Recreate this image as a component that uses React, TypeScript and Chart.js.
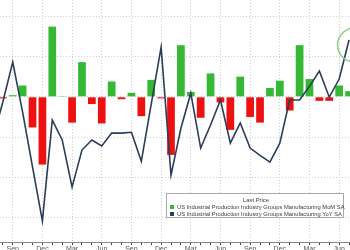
import React, { useEffect, useRef } from "react";
import { Chart, registerables } from "chart.js";

Chart.register(...registerables);

const MONTHS = [
  "Jul", "Aug", "Sep", "Oct", "Nov", "Dec",
  "Jan", "Feb", "Mar", "Apr", "May", "Jun", "Jul", "Aug", "Sep", "Oct", "Nov", "Dec",
  "Jan", "Feb", "Mar", "Apr", "May", "Jun", "Jul", "Aug", "Sep", "Oct", "Nov", "Dec",
  "Jan", "Feb", "Mar", "Apr", "May", "Jun", "Jul",
];

const TICK_MONTHS = ["Sep", "Dec", "Mar", "Jun"];

// US Industrial Production Manufacturing MoM SA (%)
const MOM = [
  null, -0.02, 0.02, 0.14, -0.38, -0.84,
  0.87, 0.01, -0.32, 0.43, -0.09, -0.33, 0.19, -0.03, 0.05, -0.24, 0.21, -0.02,
  -0.72, 0.64, 0.06, -0.26, 0.29, -0.07, -0.41, 0.25, -0.25, -0.32, 0.11, 0.2,
  -0.17, 0.64, 0.22, -0.05, -0.05, 0.14, 0.07,
];

// US Industrial Production Manufacturing YoY SA (%)
const YOY = [
  -0.02, 0.87, 1.86, 0.62, -0.74, -2.08,
  0.42, -0.07, -1.24, -0.32, -0.07, -0.22, 0.1, 0.1, 0.12, -0.6, 0.82, 2.23,
  -0.94, 0.22, 1.09, -0.27, 0.3, 0.92, -0.15, 0.35, -0.27, -0.45, -0.62, -0.15,
  0.92, 0.92, 1.26, 1.64, 0.99, 1.44, 2.41,
];

const LEGEND_TITLE = "Last Price";
const SERIES_MOM = "US Industrial Production Industry Groups Manufacturing MoM SA";
const SERIES_YOY = "US Industrial Production Industry Groups Manufacturing YoY SA";

const GREEN = "#35b935";
const RED = "#ee1111";
const NAVY = "#2b3d58";
const GRID = "#cfcfcf";
const FONT = "'Liberation Sans', Arial, sans-serif";

const circlePlugin = {
  id: "lastCircle",
  afterDatasetsDraw(chart: any) {
    const meta = chart.getDatasetMeta(1);
    const pts = meta.data;
    if (!pts || !pts.length) return;
    const p = pts[pts.length - 1];
    const ctx = chart.ctx;
    ctx.save();
    ctx.strokeStyle = "#8ccc8c";
    ctx.lineWidth = 1.5;
    ctx.beginPath();
    ctx.arc(p.x + 5.5, p.y + 5, 17, 0, Math.PI * 2);
    ctx.stroke();
    ctx.restore();
  },
};

export default function App() {
  const ref = useRef<HTMLCanvasElement | null>(null);

  useEffect(() => {
    if (!ref.current) return;
    const chart = new Chart(ref.current, {
      type: "bar",
      data: {
        labels: MONTHS,
        datasets: [
          {
            type: "bar",
            label: SERIES_MOM,
            data: MOM,
            yAxisID: "y",
            backgroundColor: (c: any) => ((c.raw ?? 0) >= 0 ? GREEN : RED),
            borderWidth: 0,
            categoryPercentage: 1,
            barPercentage: 0.78,
            order: 2,
          },
          {
            type: "line",
            label: SERIES_YOY,
            data: YOY,
            yAxisID: "y1",
            borderColor: NAVY,
            borderWidth: 1.6,
            pointRadius: 0,
            tension: 0,
            order: 1,
          },
        ],
      },
      options: {
        animation: false,
        responsive: true,
        maintainAspectRatio: false,
        layout: { padding: 0 },
        plugins: { legend: { display: false }, tooltip: { enabled: false } },
        scales: {
          x: {
            offset: true,
            grid: {
              offset: false,
              color: (c: any) =>
                TICK_MONTHS.includes(MONTHS[c.index]) ? GRID : "rgba(0,0,0,0)",
              tickColor: "#444",
              tickLength: 3,
              lineWidth: 1,
            },
            border: { display: true, color: "#888", dash: [1, 2] },
            ticks: {
              autoSkip: false,
              maxRotation: 0,
              padding: 0,
              color: "#555",
              font: { family: FONT, size: 7 },
              callback: (_v: any, i: number) =>
                TICK_MONTHS.includes(MONTHS[i]) ? MONTHS[i] : "",
            },
            afterFit: (s: any) => {
              s.height = 12;
            },
          },
          y: {
            position: "left",
            min: -1.8,
            max: 1.2,
            afterBuildTicks: (s: any) => {
              s.ticks = [-1.5, -1, -0.5, 0, 0.5, 1].map((v) => ({ value: v }));
            },
            ticks: { display: false },
            grid: { color: GRID, drawTicks: false, lineWidth: 1 },
            border: { display: false, dash: [1, 2] },
            afterFit: (s: any) => {
              s.width = 0;
            },
          },
          y1: {
            position: "right",
            display: false,
            min: -2.6,
            max: 3.4,
          },
        },
      },
      plugins: [circlePlugin],
    });
    return () => chart.destroy();
  }, []);

  const text: React.CSSProperties = {
    position: "absolute",
    fontFamily: FONT,
    fontSize: "5.8px",
    lineHeight: "6px",
    color: "#3a3a3a",
    whiteSpace: "nowrap",
  };

  return (
    <div style={{ position: "fixed", left: 0, top: 0, width: 350, height: 250, overflow: "hidden", background: "#fff" }}>
      <div style={{ position: "absolute", left: -12, top: 0, width: 366, height: 254 }}>
        <canvas ref={ref} />
      </div>
      <div
        style={{
          position: "absolute",
          left: 166,
          top: 193,
          width: 178,
          height: 25,
          background: "#fff",
          border: "1px solid #a8a8a8",
          boxSizing: "border-box",
        }}
      >
        <div style={{ ...text, left: 0, width: 178, top: 3, textAlign: "center" }}>{LEGEND_TITLE}</div>
        <div style={{ position: "absolute", left: 3, top: 11, width: 4, height: 4, background: GREEN }} />
        <div style={{ ...text, left: 10, top: 10 }}>{SERIES_MOM}</div>
        <div style={{ position: "absolute", left: 3, top: 18, width: 4, height: 4, background: NAVY }} />
        <div style={{ ...text, left: 10, top: 17 }}>{SERIES_YOY}</div>
      </div>
    </div>
  );
}
